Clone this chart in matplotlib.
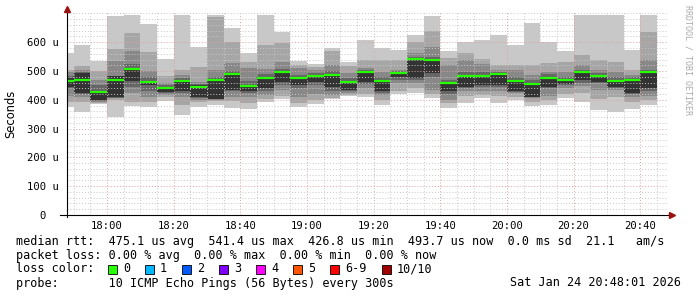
import numpy as np
import pandas as pd
import matplotlib
matplotlib.use("Agg")
import matplotlib.pyplot as plt
import matplotlib.dates as mdates
from matplotlib.patches import Rectangle

# 5 minute buckets, 10 pings each (sorted, in microseconds)
bucket_start = pd.date_range("2026-01-24 17:45", periods=36, freq="5min")
pings = [
    [376, 392, 412, 440, 446, 475, 481, 495, 505, 562],
    [359, 394, 410, 420, 423, 492, 495, 505, 518, 591],
    [385, 390, 394, 397, 398, 430, 450, 470, 500, 536],
    [340, 398, 406, 408, 411, 481, 483, 535, 576, 692],
    [379, 394, 425, 445, 466, 505, 524, 570, 632, 695],
    [376, 392, 411, 430, 452, 466, 480, 501, 566, 664],
    [397, 409, 418, 425, 428, 444, 452, 460, 481, 542],
    [348, 382, 410, 425, 429, 466, 475, 487, 505, 696],
    [375, 392, 400, 405, 409, 450, 455, 462, 515, 582],
    [382, 395, 400, 402, 403, 470, 480, 502, 686, 695],
    [371, 395, 409, 430, 434, 490, 500, 527, 602, 649],
    [368, 390, 409, 425, 430, 450, 465, 510, 533, 564],
    [394, 402, 417, 430, 440, 476, 490, 506, 591, 695],
    [402, 413, 434, 450, 463, 496, 506, 533, 597, 637],
    [374, 390, 411, 440, 452, 476, 487, 510, 520, 536],
    [385, 400, 420, 450, 463, 482, 492, 504, 515, 525],
    [402, 408, 417, 430, 444, 488, 500, 521, 568, 581],
    [413, 418, 423, 430, 434, 464, 475, 492, 516, 533],
    [411, 420, 441, 455, 463, 498, 505, 512, 539, 608],
    [382, 400, 417, 425, 429, 468, 480, 498, 540, 581],
    [420, 430, 457, 470, 480, 493, 500, 504, 540, 573],
    [423, 440, 457, 470, 475, 543, 550, 562, 600, 626],
    [405, 420, 434, 480, 492, 540, 548, 583, 640, 691],
    [371, 390, 400, 420, 429, 460, 470, 521, 545, 568],
    [390, 414, 432, 440, 446, 484, 495, 539, 564, 602],
    [405, 417, 430, 445, 452, 482, 495, 525, 541, 608],
    [390, 414, 430, 445, 452, 490, 498, 504, 521, 626],
    [400, 411, 425, 428, 429, 468, 480, 504, 521, 591],
    [380, 394, 405, 410, 411, 456, 470, 487, 521, 666],
    [382, 400, 414, 440, 446, 478, 488, 498, 527, 602],
    [405, 420, 440, 450, 455, 470, 480, 498, 533, 568],
    [394, 423, 448, 460, 469, 496, 505, 521, 556, 695],
    [363, 402, 434, 460, 463, 484, 493, 504, 539, 695],
    [359, 409, 434, 440, 446, 468, 478, 498, 533, 695],
    [368, 394, 409, 420, 423, 470, 478, 487, 502, 573],
    [382, 400, 414, 430, 440, 496, 505, 539, 634, 695],
]
median = [467, 469, 427, 469, 507, 463, 442, 466, 446, 469, 489, 448,
          475, 495, 475, 481, 487, 463, 496, 467, 492, 541, 539, 460,
          483, 481, 489, 467, 455, 477, 469, 495, 483, 467, 469, 495]

ytick_vals = [0, 100, 200, 300, 400, 500, 600]
ytick_labels = ["0  ", "100 u", "200 u", "300 u", "400 u", "500 u", "600 u"]

smoke_colors = ["#c8c8c8", "#a6a6a6", "#888888", "#666666", "#333333"]
loss_labels = ["0", "1", "2", "3", "4", "5", "6-9", "10/10"]
loss_colors = ["#26ff00", "#00b8ff", "#0059ff", "#7e00ff",
               "#ff00ff", "#ff5500", "#ff0000", "#a10000"]

legend_lines = [
    "median rtt:  475.1 us avg  541.4 us max  426.8 us min  493.7 us now  0.0 ms sd  21.1   am/s",
    "packet loss: 0.00 % avg  0.00 % max  0.00 % min  0.00 % now",
    "loss color:",
    "probe:       10 ICMP Echo Pings (56 Bytes) every 300s",
]
stamp = "Sat Jan 24 20:48:01 2026"

MONO = "DejaVu Sans Mono"

# ----------------------------
# FIGURE
# ----------------------------
fig = plt.figure(figsize=(6.97, 2.97), dpi=100)
ax = fig.add_axes([67 / 697, 82 / 297, 600 / 697, 203 / 297])

x0 = mdates.date2num(bucket_start)
w = 5 / 1440
p = np.array(pings)

for i, col in enumerate(smoke_colors):
    lo = p[:, i]
    hi = p[:, 9 - i]
    ax.bar(x0, hi - lo, bottom=lo, width=w, align="edge",
           color=col, linewidth=0, zorder=1)

ax.hlines(median, x0, x0 + w, colors="#26ff00", linewidth=1.6, zorder=3)

ax.set_xlim(mdates.date2num(pd.Timestamp("2026-01-24 17:48:01")),
            mdates.date2num(pd.Timestamp("2026-01-24 20:48:01")))
ax.set_ylim(0, 705)

ax.xaxis.set_major_locator(mdates.MinuteLocator(byminute=[0, 20, 40]))
ax.xaxis.set_minor_locator(mdates.MinuteLocator(byminute=range(0, 60, 5)))
ax.xaxis.set_major_formatter(mdates.DateFormatter("%H:%M"))
ax.set_yticks(ytick_vals)
ax.set_yticklabels(ytick_labels)
ax.yaxis.set_minor_locator(matplotlib.ticker.MultipleLocator(20))

ax.set_axisbelow(False)
ax.grid(which="minor", color="#c8c8c8", linestyle=(0, (1, 2)), linewidth=0.7)
ax.grid(which="major", color="#e0a0a0", linestyle=(0, (1, 2)), linewidth=0.7)

for s in ax.spines.values():
    s.set_visible(False)

ax.tick_params(which="both", length=0)
ax.tick_params(axis="y", pad=5.5, labelsize=7.6)
ax.tick_params(axis="x", pad=4.5, labelsize=7.6)
for lab in ax.get_xticklabels() + ax.get_yticklabels():
    lab.set_family(MONO)

# axis lines with arrows
ax.plot([-0.012, 1.008], [0, 0], color="black", linewidth=0.8,
        transform=ax.transAxes, clip_on=False, zorder=4)
ax.plot([0, 0], [-0.01, 1.0], color="black", linewidth=0.8,
        transform=ax.transAxes, clip_on=False, zorder=4)
ax.plot(1.008, 0, marker=">", markersize=4, color="#9b1010",
        transform=ax.transAxes, clip_on=False, zorder=5)
ax.plot(0, 1.015, marker="^", markersize=4, color="#9b1010",
        transform=ax.transAxes, clip_on=False, zorder=5)

# ----------------------------
# TEXT OVERLAY (pixel coords)
# ----------------------------
tx = fig.add_axes([0, 0, 1, 1], facecolor="none")
tx.set_xlim(0, 697)
tx.set_ylim(297, 0)
tx.axis("off")

tx.text(11, 114, "Seconds", rotation=90, ha="center", va="center",
        fontsize=8.3)

tx.text(688, 60, "RRDTOOL / TOBI OETIKER", rotation=270, ha="center",
        va="center", fontsize=6, family=MONO, color="#aaaaaa")

rows_y = [241, 255, 269, 283]
for line, yy in zip(legend_lines, rows_y):
    tx.text(16, yy, line, ha="left", va="center", fontsize=8.5, family=MONO)
tx.text(681, rows_y[3], stamp, ha="right", va="center", fontsize=8.5, family=MONO)

box_x = [108, 145, 182, 219, 256, 293, 330, 382]
for bx, lab, col in zip(box_x, loss_labels, loss_colors):
    tx.add_patch(Rectangle((bx, rows_y[2] - 4.5), 9, 9, facecolor=col,
                           edgecolor="black", linewidth=0.6))
    tx.text(bx + 15, rows_y[2], lab, ha="left", va="center",
            fontsize=8.5, family=MONO)

plt.savefig("out.png", dpi=100)
